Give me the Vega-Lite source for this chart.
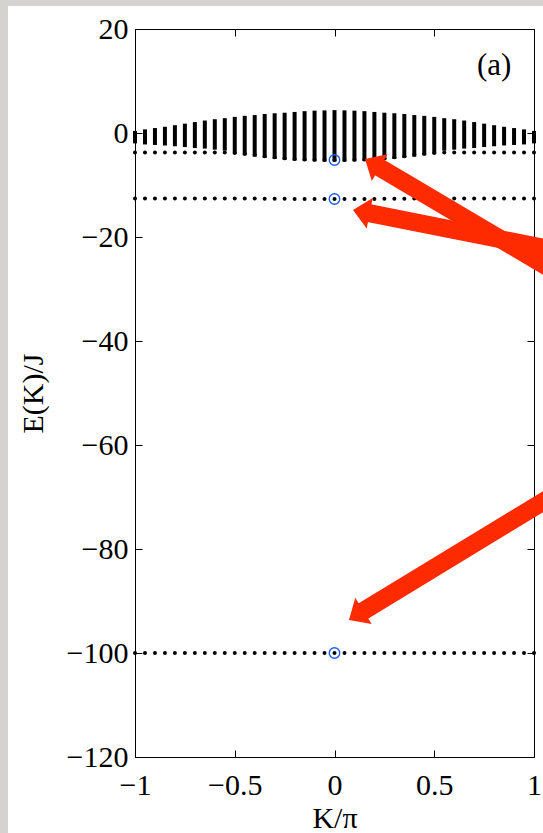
{
  "$schema": "https://vega.github.io/schema/vega-lite/v6.json",
  "width": 399,
  "height": 728,
  "autosize": {"type": "none"},
  "padding": {"left": 135, "top": 29, "right": 9, "bottom": 76},
  "background": "white",
  "config": {
    "view": {"stroke": null},
    "axis": {
      "grid": false,
      "domainColor": "black",
      "domainWidth": 1,
      "tickColor": "black",
      "tickWidth": 1,
      "tickSize": -7,
      "labelColor": "black",
      "titleColor": "black",
      "labelFont": "Liberation Serif",
      "titleFont": "Liberation Serif",
      "labelFontSize": 30,
      "titleFontSize": 30,
      "titleFontWeight": "normal",
      "labelFlush": false,
      "labelOverlap": false
    }
  },
  "datasets": {
    "spec": [
      {"K": -1.0, "top": 0.4, "bottom": -2.0, "b1": -3.75, "b2": -12.6, "b3": -100},
      {"K": -0.95, "top": 0.7, "bottom": -2.2, "b1": -3.75, "b2": -12.6, "b3": -100},
      {"K": -0.9, "top": 0.95, "bottom": -2.3, "b1": -3.75, "b2": -12.6, "b3": -100},
      {"K": -0.85, "top": 1.2, "bottom": -2.4, "b1": -3.75, "b2": -12.6, "b3": -100},
      {"K": -0.8, "top": 1.5, "bottom": -2.55, "b1": -3.75, "b2": -12.6, "b3": -100},
      {"K": -0.75, "top": 1.8, "bottom": -2.7, "b1": -3.75, "b2": -12.6, "b3": -100},
      {"K": -0.7, "top": 2.1, "bottom": -2.9, "b1": -3.75, "b2": -12.6, "b3": -100},
      {"K": -0.65, "top": 2.4, "bottom": -3.0, "b1": -3.75, "b2": -12.6, "b3": -100},
      {"K": -0.6, "top": 2.65, "bottom": -3.2, "b1": -3.75, "b2": -12.6, "b3": -100},
      {"K": -0.55, "top": 2.85, "bottom": -3.4, "b1": -3.75, "b2": -12.6, "b3": -100},
      {"K": -0.5, "top": 3.1, "bottom": -4.0, "b1": -3.85, "b2": -12.6, "b3": -100},
      {"K": -0.45, "top": 3.3, "bottom": -4.3, "b1": -4.0, "b2": -12.6, "b3": -100},
      {"K": -0.4, "top": 3.45, "bottom": -4.55, "b1": -4.2, "b2": -12.6, "b3": -100},
      {"K": -0.35, "top": 3.65, "bottom": -4.8, "b1": -4.45, "b2": -12.65, "b3": -100},
      {"K": -0.3, "top": 3.8, "bottom": -5.0, "b1": -4.65, "b2": -12.65, "b3": -100},
      {"K": -0.25, "top": 3.9, "bottom": -5.2, "b1": -4.85, "b2": -12.65, "b3": -100},
      {"K": -0.2, "top": 4.05, "bottom": -5.3, "b1": -5.0, "b2": -12.7, "b3": -100},
      {"K": -0.15, "top": 4.2, "bottom": -5.4, "b1": -5.1, "b2": -12.7, "b3": -100},
      {"K": -0.1, "top": 4.3, "bottom": -5.45, "b1": -5.15, "b2": -12.7, "b3": -100},
      {"K": -0.05, "top": 4.35, "bottom": -5.5, "b1": -5.2, "b2": -12.7, "b3": -100},
      {"K": 0.0, "top": 4.4, "bottom": -5.5, "b1": -5.2, "b2": -12.7, "b3": -100},
      {"K": 0.05, "top": 4.35, "bottom": -5.5, "b1": -5.2, "b2": -12.7, "b3": -100},
      {"K": 0.1, "top": 4.3, "bottom": -5.45, "b1": -5.15, "b2": -12.7, "b3": -100},
      {"K": 0.15, "top": 4.2, "bottom": -5.4, "b1": -5.1, "b2": -12.7, "b3": -100},
      {"K": 0.2, "top": 4.05, "bottom": -5.3, "b1": -5.0, "b2": -12.7, "b3": -100},
      {"K": 0.25, "top": 3.9, "bottom": -5.2, "b1": -4.85, "b2": -12.65, "b3": -100},
      {"K": 0.3, "top": 3.8, "bottom": -5.0, "b1": -4.65, "b2": -12.65, "b3": -100},
      {"K": 0.35, "top": 3.65, "bottom": -4.8, "b1": -4.45, "b2": -12.65, "b3": -100},
      {"K": 0.4, "top": 3.45, "bottom": -4.55, "b1": -4.2, "b2": -12.6, "b3": -100},
      {"K": 0.45, "top": 3.3, "bottom": -4.3, "b1": -4.0, "b2": -12.6, "b3": -100},
      {"K": 0.5, "top": 3.1, "bottom": -4.0, "b1": -3.85, "b2": -12.6, "b3": -100},
      {"K": 0.55, "top": 2.85, "bottom": -3.4, "b1": -3.75, "b2": -12.6, "b3": -100},
      {"K": 0.6, "top": 2.65, "bottom": -3.2, "b1": -3.75, "b2": -12.6, "b3": -100},
      {"K": 0.65, "top": 2.4, "bottom": -3.0, "b1": -3.75, "b2": -12.6, "b3": -100},
      {"K": 0.7, "top": 2.1, "bottom": -2.9, "b1": -3.75, "b2": -12.6, "b3": -100},
      {"K": 0.75, "top": 1.8, "bottom": -2.7, "b1": -3.75, "b2": -12.6, "b3": -100},
      {"K": 0.8, "top": 1.5, "bottom": -2.55, "b1": -3.75, "b2": -12.6, "b3": -100},
      {"K": 0.85, "top": 1.2, "bottom": -2.4, "b1": -3.75, "b2": -12.6, "b3": -100},
      {"K": 0.9, "top": 0.95, "bottom": -2.3, "b1": -3.75, "b2": -12.6, "b3": -100},
      {"K": 0.95, "top": 0.7, "bottom": -2.2, "b1": -3.75, "b2": -12.6, "b3": -100},
      {"K": 1.0, "top": 0.4, "bottom": -2.0, "b1": -3.75, "b2": -12.6, "b3": -100}
    ],
    "marked": [
      {"K": 0, "E": -5.2},
      {"K": 0, "E": -12.7},
      {"K": 0, "E": -100}
    ],
    "strips": [
      {"K1": -1.6767, "K2": -1.6366, "E1": 25.6, "E2": -134.7},
      {"K1": -1.6366, "K2": 1.06, "E1": 25.6, "E2": 24.42}
    ],
    "panel": [
      {"K": 0.8, "E": 12.9, "label": "(a)"}
    ],
    "arrows": [
      {"id": 1, "tipK": 0.1529, "tipE": -5.0, "startK": 0.209, "startE": -6.27, "tailK": 1.1053, "tailE": -26.6},
      {"id": 2, "tipK": 0.0927, "tipE": -14.81, "startK": 0.1544, "startE": -15.27, "tailK": 1.1053, "tailE": -22.5},
      {"id": 3, "tipK": 0.0727, "tipE": -93.65, "startK": 0.1303, "startE": -92.25, "tailK": 1.1053, "tailE": -69.5}
    ]
  },
  "layer": [
    {
      "data": {"name": "strips"},
      "mark": {"type": "rect", "color": "#d4d3cf", "clip": false},
      "encoding": {
        "x": {"field": "K1", "type": "quantitative", "scale": {"domain": [-1, 1], "nice": false, "zero": false}, "axis": null},
        "x2": {"field": "K2"},
        "y": {"field": "E1", "type": "quantitative", "scale": {"domain": [-120, 20], "nice": false, "zero": false}, "axis": null},
        "y2": {"field": "E2"}
      }
    },
    {
      "data": {"name": "spec"},
      "mark": {"type": "rule", "color": "black", "strokeWidth": 4},
      "encoding": {
        "x": {
          "field": "K", "type": "quantitative",
          "scale": {"domain": [-1, 1], "nice": false, "zero": false},
          "axis": {
            "orient": "bottom",
            "values": [-1, -0.5, 0, 0.5, 1],
            "format": "~g",
            "labelPadding": 20,
            "title": "K/π",
            "titlePadding": 3,
            "encode": {"labels": {"update": {"dx": {"signal": "datum.value < 0 ? -8.5 : 0"}}}}
          }
        },
        "y": {
          "field": "top", "type": "quantitative",
          "scale": {"domain": [-120, 20], "nice": false, "zero": false},
          "axis": {
            "orient": "left",
            "values": [-120, -100, -80, -60, -40, -20, 0, 20],
            "format": "d",
            "labelPadding": 14,
            "title": "E(K)/J",
            "titlePadding": 18
          }
        },
        "y2": {"field": "bottom"}
      }
    },
    {
      "data": {"name": "spec"},
      "transform": [{"fold": ["b1", "b2", "b3"], "as": ["branch", "E"]}],
      "mark": {"type": "point", "shape": "circle", "filled": true, "color": "black", "size": 16, "opacity": 1},
      "encoding": {
        "x": {
          "field": "K", "type": "quantitative",
          "scale": {"domain": [-1, 1], "nice": false, "zero": false},
          "axis": {"orient": "top", "values": [-1, -0.5, 0, 0.5, 1], "labels": false, "title": null}
        },
        "y": {
          "field": "E", "type": "quantitative",
          "scale": {"domain": [-120, 20], "nice": false, "zero": false},
          "axis": {"orient": "right", "values": [-120, -100, -80, -60, -40, -20, 0, 20], "labels": false, "title": null}
        }
      }
    },
    {
      "data": {"name": "marked"},
      "mark": {"type": "point", "shape": "circle", "filled": false, "stroke": "#1f5cff", "strokeWidth": 1.4, "size": 110, "opacity": 1},
      "encoding": {
        "x": {"field": "K", "type": "quantitative", "axis": null},
        "y": {"field": "E", "type": "quantitative", "axis": null}
      }
    },
    {
      "data": {"name": "panel"},
      "mark": {"type": "text", "font": "Liberation Serif", "fontSize": 31, "color": "black", "align": "center", "baseline": "middle"},
      "encoding": {
        "x": {"field": "K", "type": "quantitative", "axis": null},
        "y": {"field": "E", "type": "quantitative", "axis": null},
        "text": {"field": "label"}
      }
    },
    {
      "data": {"name": "arrows"},
      "mark": {"type": "rule", "color": "#fe2a00", "strokeWidth": 18, "strokeCap": "butt", "clip": false},
      "encoding": {
        "x": {"field": "startK", "type": "quantitative", "axis": null},
        "y": {"field": "startE", "type": "quantitative", "axis": null},
        "x2": {"field": "tailK"},
        "y2": {"field": "tailE"}
      }
    },
    {
      "data": {"name": "arrows"},
      "transform": [{"filter": "datum.id == 1"}],
      "mark": {"type": "point", "shape": "M0,0L1,1.1L-1,1.1Z", "filled": true, "color": "#fe2a00", "size": 961, "opacity": 1, "angle": -59.4, "strokeWidth": 0, "clip": false},
      "encoding": {
        "x": {"field": "tipK", "type": "quantitative", "axis": null},
        "y": {"field": "tipE", "type": "quantitative", "axis": null}
      }
    },
    {
      "data": {"name": "arrows"},
      "transform": [{"filter": "datum.id == 2"}],
      "mark": {"type": "point", "shape": "M0,0L1,1.1L-1,1.1Z", "filled": true, "color": "#fe2a00", "size": 961, "opacity": 1, "angle": -78.8, "strokeWidth": 0, "clip": false},
      "encoding": {
        "x": {"field": "tipK", "type": "quantitative", "axis": null},
        "y": {"field": "tipE", "type": "quantitative", "axis": null}
      }
    },
    {
      "data": {"name": "arrows"},
      "transform": [{"filter": "datum.id == 3"}],
      "mark": {"type": "point", "shape": "M0,0L1,1.1L-1,1.1Z", "filled": true, "color": "#fe2a00", "size": 961, "opacity": 1, "angle": -122, "strokeWidth": 0, "clip": false},
      "encoding": {
        "x": {"field": "tipK", "type": "quantitative", "axis": null},
        "y": {"field": "tipE", "type": "quantitative", "axis": null}
      }
    }
  ],
  "resolve": {"axis": {"x": "independent", "y": "independent"}}
}
